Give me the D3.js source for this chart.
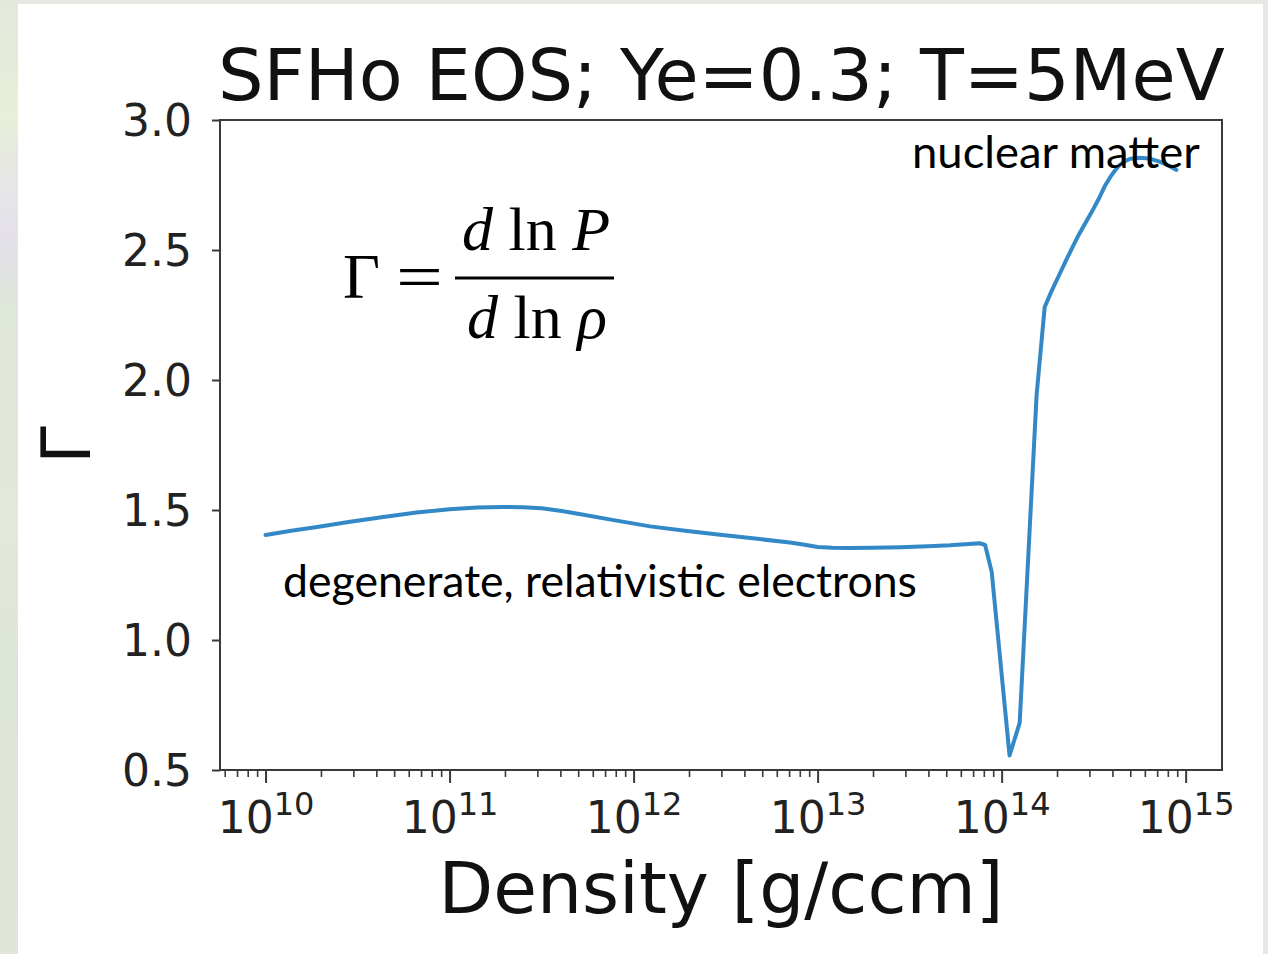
<!DOCTYPE html>
<html>
<head>
<meta charset="utf-8">
<script src="https://cdn.jsdelivr.net/npm/d3@7"></script>
<style>
  html, body { margin: 0; padding: 0; background: #ffffff; }
  svg { display: block; }
</style>
</head>
<body>
<svg id="chart" width="1268" height="954"></svg>
<script>
// Adiabatic index Gamma along the SFHo equation of state (Ye = 0.3, T = 5 MeV)
const logDensity = [10.0, 10.14, 10.28, 10.46, 10.64, 10.82, 11.0, 11.15, 11.29, 11.4,
                    11.5, 11.61, 11.72, 11.9, 12.09, 12.28, 12.47, 12.66, 12.85, 12.93,
                    13.0, 13.08, 13.17, 13.3, 13.45, 13.6, 13.72, 13.88, 13.91, 13.946,
                    14.043, 14.098, 14.19, 14.234, 14.27, 14.31, 14.35, 14.386, 14.42,
                    14.46, 14.5, 14.533, 14.56, 14.59, 14.615, 14.64, 14.67, 14.70,
                    14.75, 14.8, 14.85, 14.875, 14.91, 14.95];
const gamma = [1.404, 1.420, 1.435, 1.455, 1.473, 1.490, 1.503, 1.510, 1.512, 1.511,
               1.507, 1.496, 1.483, 1.460, 1.437, 1.420, 1.405, 1.390, 1.375, 1.366,
               1.358, 1.355, 1.354, 1.355, 1.357, 1.361, 1.364, 1.372, 1.366, 1.262,
               0.556, 0.681, 1.942, 2.281, 2.340, 2.400, 2.460, 2.512, 2.560,
               2.610, 2.660, 2.704, 2.745, 2.780, 2.805, 2.826, 2.842, 2.851,
               2.855, 2.852, 2.842, 2.835, 2.823, 2.808];
const yTicks = [0.5, 1.0, 1.5, 2.0, 2.5, 3.0];
const xDecades = [10, 11, 12, 13, 14, 15];
const titleText = "SFHo EOS; Ye=0.3; T=5MeV";
const xLabelText = "Density [g/ccm]";
const yLabelText = "\u0393";
const notes = ["nuclear matter", "degenerate, relativistic electrons"];

const svg = d3.select("#chart");
const W = 1268, H = 954;
const plot = { left: 220, right: 1222, top: 120, bottom: 770 };

// page backdrop: tinted strip on the left, thin edges top and right
const defs = svg.append("defs");
const grad = defs.append("linearGradient").attr("id", "strip")
  .attr("x1", 0).attr("y1", 0).attr("x2", 0).attr("y2", 1);
[[0, "#e3e9dc"], [0.12, "#e8eed8"], [0.2, "#e6e6e8"], [0.25, "#e4e0ea"], [0.32, "#dfe6da"],
 [0.55, "#e2e9da"], [0.7, "#dde5d8"], [1, "#dfe6d9"]]
  .forEach(([o, c]) => grad.append("stop").attr("offset", o).attr("stop-color", c));
svg.append("rect").attr("width", W).attr("height", H).attr("fill", "#e6e8e4");
svg.append("rect").attr("x", 0).attr("y", 0).attr("width", 18).attr("height", H).attr("fill", "url(#strip)");
svg.append("rect").attr("x", 18).attr("y", 4).attr("width", 1245).attr("height", H - 4).attr("fill", "#ffffff");

const data = logDensity.map((e, i) => ({ rho: Math.pow(10, e), g: gamma[i] }));

const x = d3.scaleLog()
  .domain([Math.pow(10, 9.7525), Math.pow(10, 15.1975)])
  .range([plot.left, plot.right]);
const y = d3.scaleLinear().domain([0.5, 3.0]).range([plot.bottom, plot.top]);

const axisColor = "#3a3a3a";
const labelFont = "'DejaVu Sans', sans-serif";

// curve
const line = d3.line().x(d => x(d.rho)).y(d => y(d.g));
svg.append("path").datum(data)
  .attr("d", line)
  .attr("fill", "none")
  .attr("stroke", "#3389c8")
  .attr("stroke-width", 4)
  .attr("stroke-linejoin", "round")
  .attr("stroke-linecap", "round");

// x axis: major decades plus minor 2..9 ticks
const minorVals = [];
for (let e = 9; e <= 15; e++) {
  for (let m = 2; m <= 9; m++) {
    const v = m * Math.pow(10, e);
    if (v >= x.domain()[0] && v <= x.domain()[1]) minorVals.push(v);
  }
}
const xMinor = d3.axisBottom(x).tickValues(minorVals).tickSize(7).tickFormat("");
const gxm = svg.append("g").attr("transform", `translate(0,${plot.bottom})`).call(xMinor);
gxm.select(".domain").remove();
gxm.selectAll("line").attr("stroke", axisColor).attr("stroke-width", 1.6);

const xMajor = d3.axisBottom(x).tickValues(xDecades.map(e => Math.pow(10, e))).tickSize(13).tickFormat("");
const gx = svg.append("g").attr("transform", `translate(0,${plot.bottom})`).call(xMajor);
gx.select(".domain").remove();
gx.selectAll("line").attr("stroke", axisColor).attr("stroke-width", 2);

// decade labels as 10 with a raised exponent
gx.selectAll(".tick").each(function (d) {
  const e = Math.round(Math.log10(d));
  const t = d3.select(this).append("text")
    .attr("y", 63)
    .attr("fill", "#222")
    .attr("font-family", labelFont)
    .attr("font-size", 44)
    .attr("text-anchor", "middle");
  t.append("tspan").text("10");
  t.append("tspan").attr("font-size", 32).attr("dy", -18).text(String(e));
});

// y axis
const yAxis = d3.axisLeft(y).tickValues(yTicks).tickSize(8).tickPadding(20)
  .tickFormat(d3.format(".1f"));
const gy = svg.append("g").attr("transform", `translate(${plot.left},0)`).call(yAxis);
gy.select(".domain").remove();
gy.selectAll("line").attr("stroke", axisColor).attr("stroke-width", 2);
gy.selectAll("text")
  .attr("fill", "#222")
  .attr("font-family", labelFont)
  .attr("font-size", 44)
  .attr("dy", "0.36em");

// frame
svg.append("rect")
  .attr("x", plot.left).attr("y", plot.top)
  .attr("width", plot.right - plot.left).attr("height", plot.bottom - plot.top)
  .attr("fill", "none").attr("stroke", axisColor).attr("stroke-width", 2);

// fit a text element horizontally to a given width by adjusting its font size
function fitWidth(sel, target) {
  const fs = parseFloat(sel.attr("font-size"));
  const w = sel.node().getBBox().width;
  sel.attr("font-size", fs * target / w);
}

// title
const title = svg.append("text")
  .attr("x", 218).attr("y", 100)
  .attr("fill", "#111")
  .attr("font-family", labelFont)
  .attr("font-size", 70)
  .text(titleText);
fitWidth(title, 1007);

// axis titles
const xl = svg.append("text")
  .attr("x", (plot.left + plot.right) / 2).attr("y", 913)
  .attr("text-anchor", "middle")
  .attr("fill", "#111")
  .attr("font-family", labelFont)
  .attr("font-size", 72)
  .text(xLabelText);
fitWidth(xl, 565);

svg.append("text")
  .attr("transform", `translate(90,${(plot.top + plot.bottom) / 2}) rotate(-90)`)
  .attr("text-anchor", "middle")
  .attr("fill", "#111")
  .attr("font-family", labelFont)
  .attr("font-size", 68)
  .text(yLabelText);

// region notes
const noteFont = "Lato, 'Open Sans', sans-serif";
const n1 = svg.append("text")
  .attr("x", 912).attr("y", 168)
  .attr("fill", "#000")
  .attr("font-family", noteFont)
  .attr("font-size", 38)
  .text(notes[0]);
fitWidth(n1, 288);
const n2 = svg.append("text")
  .attr("x", 283).attr("y", 597)
  .attr("fill", "#000")
  .attr("font-family", noteFont)
  .attr("font-size", 38)
  .text(notes[1]);
fitWidth(n2, 634);

// definition of Gamma
const mathFont = "'Liberation Serif', 'DejaVu Serif', serif";
const eq = svg.append("g").attr("fill", "#000").attr("font-family", mathFont);
eq.append("text").attr("x", 343).attr("y", 298).attr("font-size", 64).text("\u0393");
eq.append("text").attr("x", 396).attr("y", 298).attr("font-size", 64)
  .attr("transform", "translate(396,0) scale(1.3,1) translate(-396,0)").text("=");
eq.append("line").attr("x1", 455).attr("x2", 614).attr("y1", 278).attr("y2", 278)
  .attr("stroke", "#000").attr("stroke-width", 3);
const num = eq.append("text").attr("x", 536).attr("y", 250).attr("font-size", 62).attr("text-anchor", "middle");
num.append("tspan").attr("font-style", "italic").text("d");
num.append("tspan").text(" ln ");
num.append("tspan").attr("font-style", "italic").text("P");
const den = eq.append("text").attr("x", 537).attr("y", 338).attr("font-size", 62).attr("text-anchor", "middle");
den.append("tspan").attr("font-style", "italic").text("d");
den.append("tspan").text(" ln ");
den.append("tspan").attr("font-style", "italic").text("\u03C1");
</script>
</body>
</html>
